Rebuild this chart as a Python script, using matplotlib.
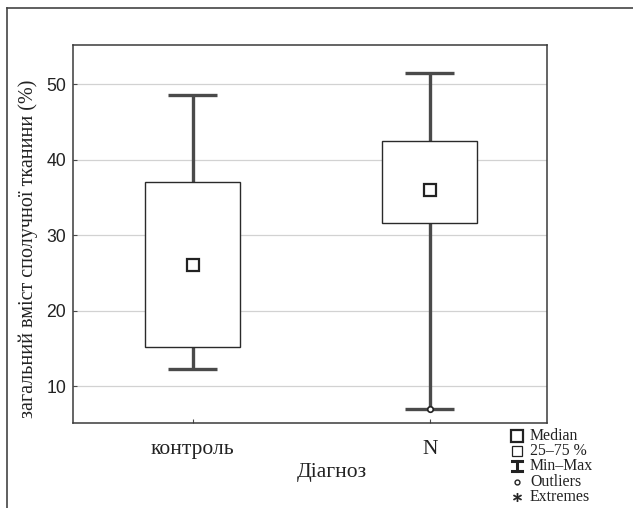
import matplotlib
matplotlib.use("Agg")
import matplotlib.pyplot as plt
from matplotlib.lines import Line2D
from matplotlib.patches import Rectangle

categories = ["контроль", "N"]
medians = [26.1, 36.0]
q1 = [15.2, 31.6]
q3 = [37.0, 42.5]
mins = [12.3, 6.9]
maxs = [48.6, 51.5]
outliers = [[], [6.9]]
yticks = [10, 20, 30, 40, 50]

W, H = 633, 508
fig = plt.figure(figsize=(W / 100, H / 100), dpi=100)
ax = fig.add_axes([73 / W, 1 - 423 / H, (547 - 73) / W, (423 - 45) / H])

dark = "#4a4a4a"
serif = ["Liberation Serif", "DejaVu Serif"]
sans = ["Liberation Sans", "DejaVu Sans"]

ax.set_xlim(0.495, 2.495)
ax.set_ylim(5.1, 55.2)
ax.set_yticks(yticks)
ax.yaxis.grid(True, color="#d2d2d2", lw=0.9)
ax.set_axisbelow(True)

bw = 0.4
cw = 0.205
for i in range(len(categories)):
    x = i + 1
    ax.plot([x, x], [mins[i], q1[i]], color=dark, lw=2.4, zorder=2, solid_capstyle="butt")
    ax.plot([x, x], [q3[i], maxs[i]], color=dark, lw=2.4, zorder=2, solid_capstyle="butt")
    ax.plot([x - cw / 2, x + cw / 2], [mins[i], mins[i]], color=dark, lw=2.4, zorder=2, solid_capstyle="butt")
    ax.plot([x - cw / 2, x + cw / 2], [maxs[i], maxs[i]], color=dark, lw=2.4, zorder=2, solid_capstyle="butt")
    ax.add_patch(Rectangle((x - bw / 2, q1[i]), bw, q3[i] - q1[i], facecolor="white",
                           edgecolor="#2a2a2a", lw=1.0, zorder=3))
    ax.plot([x], [medians[i]], marker="s", ms=9, mfc="white", mec="#222222", mew=1.6, zorder=4)
    for o in outliers[i]:
        ax.plot([x], [o], marker="o", ms=4, mfc="white", mec="#222222", mew=1.2, zorder=5)

ax.set_xticks([1, 2])
ax.set_xticklabels(categories, fontfamily=serif, fontsize=15.5)
for lab in ax.get_yticklabels():
    lab.set_fontfamily(sans)
    lab.set_fontsize(12.7)
ax.tick_params(axis="both", direction="in", length=3, color=dark, width=0.8)
ax.tick_params(axis="x", pad=12, labelcolor="#222222")
ax.tick_params(axis="y", pad=5, labelcolor="#222222")
for s in ax.spines.values():
    s.set_color("#3a3a3a")
    s.set_linewidth(1.1)

ax.set_xlabel("Діагноз", fontfamily=serif, fontsize=15.5, color="#222222")
ax.xaxis.set_label_coords((332 - 73) / 474, (423 - 463) / 378)
ax.set_ylabel("загальний вміст сполучної тканини (%)", fontfamily=serif, fontsize=14.5,
              color="#222222")
ax.yaxis.set_label_coords((38 - 73) / 474, (423 - 249) / 378)

# outer frame
fig.add_artist(Line2D([7 / W, 7 / W], [0, 1 - 8 / H], transform=fig.transFigure, color="#444444", lw=1.2))
fig.add_artist(Line2D([7 / W, 1], [1 - 8 / H, 1 - 8 / H], transform=fig.transFigure, color="#444444", lw=1.2))

# legend
lx = 517 / W
tx = 530 / W
items = [
    (436, "s", 8.5, 1.6, "Median"),
    (451, "s", 7.5, 0.9, "25–75 %"),
    (466, None, 0, 0, "Min–Max"),
    (482, "o", 3.5, 1.0, "Outliers"),
    (497, "$*$", 6, 0.5, "Extremes"),
]
for y, m, ms, mew, label in items:
    fy = 1 - y / H
    if m is None:
        fig.add_artist(Line2D([lx, lx], [fy - 5 / H, fy + 5 / H], transform=fig.transFigure, color="#222222", lw=2.2))
        fig.add_artist(Line2D([lx - 5 / W, lx + 5 / W], [fy + 5 / H, fy + 5 / H], transform=fig.transFigure, color="#222222", lw=2.2))
        fig.add_artist(Line2D([lx - 5 / W, lx + 5 / W], [fy - 5 / H, fy - 5 / H], transform=fig.transFigure, color="#222222", lw=2.2))
    else:
        fig.add_artist(Line2D([lx], [fy], transform=fig.transFigure, marker=m, ms=ms,
                              mfc="white" if m != "$*$" else "#222222", mec="#222222", mew=mew, ls="none"))
    fig.text(tx, fy, label, fontfamily=serif, fontsize=11.4, va="center", ha="left", color="#222222")

fig.savefig("out.png", dpi=100)
